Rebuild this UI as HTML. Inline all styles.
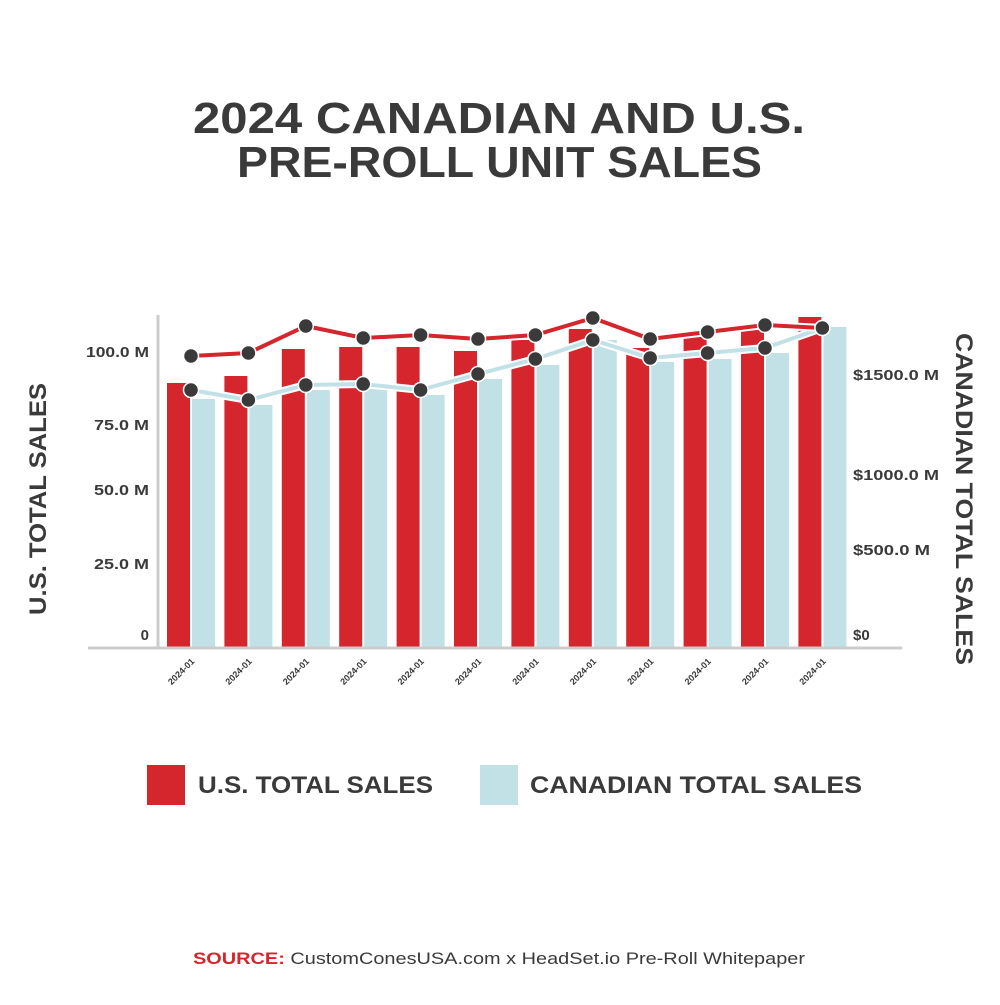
<!DOCTYPE html>
<html><head><style>
body{margin:0;background:#fff;}
svg text{font-family:"Liberation Sans",sans-serif;font-weight:bold;fill:#3a3a3a;}
</style></head><body>
<svg width="1000" height="1000" viewBox="0 0 1000 1000">
<text x="193" y="133" font-size="44" textLength="612" lengthAdjust="spacingAndGlyphs">2024 CANADIAN AND U.S.</text>
<text x="237" y="177" font-size="44" textLength="525" lengthAdjust="spacingAndGlyphs">PRE-ROLL UNIT SALES</text>
<g id="bars"></g>
<line x1="158" y1="315" x2="158" y2="648" stroke="#ccc" stroke-width="3"/>
<line x1="88" y1="648" x2="902" y2="648" stroke="#ccc" stroke-width="3"/>
<g font-size="15" text-anchor="end">
<text x="149" y="357" textLength="63" lengthAdjust="spacingAndGlyphs">100.0 M</text><text x="149" y="430" textLength="55" lengthAdjust="spacingAndGlyphs">75.0 M</text><text x="149" y="495" textLength="55" lengthAdjust="spacingAndGlyphs">50.0 M</text><text x="149" y="569" textLength="55" lengthAdjust="spacingAndGlyphs">25.0 M</text><text x="149" y="640">0</text>
</g>
<g font-size="15">
<text x="853" y="380" textLength="86" lengthAdjust="spacingAndGlyphs">$1500.0 M</text><text x="853" y="480" textLength="86" lengthAdjust="spacingAndGlyphs">$1000.0 M</text><text x="853" y="555" textLength="77" lengthAdjust="spacingAndGlyphs">$500.0 M</text><text x="853" y="640">$0</text>
</g>
<text transform="translate(46,615) rotate(-90)" font-size="24" textLength="232" lengthAdjust="spacingAndGlyphs">U.S. TOTAL SALES</text>
<text transform="translate(956,333) rotate(90)" font-size="24" textLength="332" lengthAdjust="spacingAndGlyphs">CANADIAN TOTAL SALES</text>
<g id="lines"></g>
<g id="xl" font-size="9"></g>
<rect x="147" y="765" width="38" height="40" fill="#d4262c"/>
<text x="198" y="793" font-size="24" textLength="235" lengthAdjust="spacingAndGlyphs">U.S. TOTAL SALES</text>
<rect x="480" y="765" width="38" height="40" fill="#c2e1e7"/>
<text x="530" y="793" font-size="24" textLength="332" lengthAdjust="spacingAndGlyphs">CANADIAN TOTAL SALES</text>
<text x="193" y="964" font-size="17" textLength="612" lengthAdjust="spacingAndGlyphs"><tspan fill="#d4262c">SOURCE:</tspan><tspan font-weight="normal"> CustomConesUSA.com x HeadSet.io Pre-Roll Whitepaper</tspan></text>
</svg>
<script>
var ns="http://www.w3.org/2000/svg";
function el(t,a,p){var e=document.createElementNS(ns,t);for(var k in a)e.setAttribute(k,a[k]);p.appendChild(e);return e;}
var rt=[383,376,349,347,347,351,340,329,348,333,324,317];
var bt=[399,405,390,389,395,379,365,340,362,359,353,327];
var rl=[356,353,326,338,335,339,335,318,339,332,325,328];
var bl=[390,400,385,384,390,374,359,340,358,353,348,328];
var B=document.getElementById("bars"),L=document.getElementById("lines"),X=document.getElementById("xl");
var rp=[],bp=[];
for(var i=0;i<12;i++){var x=167+i*57.4;
el("rect",{x:x,y:rt[i],width:23,height:647-rt[i],fill:"#d4262c"},B);
el("rect",{x:x+25,y:bt[i],width:23,height:647-bt[i],fill:"#c2e1e7"},B);
var cx=x+24;rp.push(cx+","+rl[i]);bp.push(cx+","+bl[i]);
var t=el("text",{transform:"translate("+(cx+4)+",662) rotate(-45)","text-anchor":"end"},X);t.textContent="2024-01";}
el("polyline",{points:bp.join(" "),fill:"none",stroke:"#fff",'stroke-width':8},L);
el("polyline",{points:bp.join(" "),fill:"none",stroke:"#c2e1e7",'stroke-width':4},L);
el("polyline",{points:rp.join(" "),fill:"none",stroke:"#fff",'stroke-width':8},L);
el("polyline",{points:rp.join(" "),fill:"none",stroke:"#d4262c",'stroke-width':4},L);
rp.concat(bp).forEach(function(p){var q=p.split(",");el("circle",{cx:q[0],cy:q[1],r:7.5,fill:"#3a3a3a",stroke:"#fff",'stroke-width':1.5},L);});
</script>
</body></html>
